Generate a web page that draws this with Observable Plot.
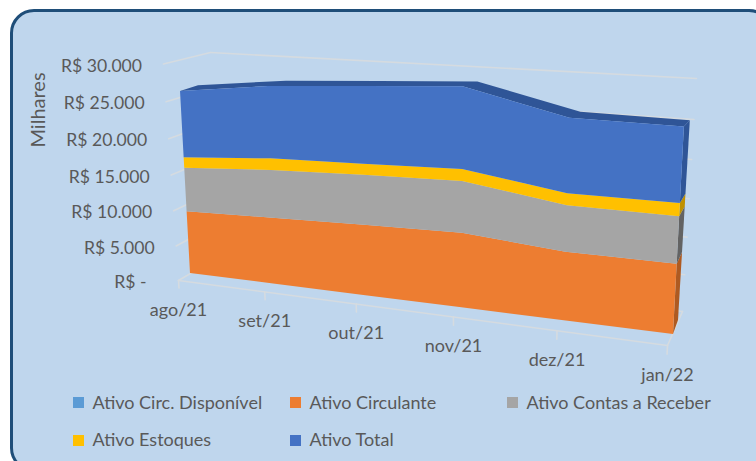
<!DOCTYPE html>
<html lang="pt">
<head>
<meta charset="utf-8">
<script src="https://cdn.jsdelivr.net/npm/d3@7"></script>
<script src="https://cdn.jsdelivr.net/npm/@observablehq/plot@0.6"></script>
<style>
html,body{margin:0;padding:0;background:#fff;overflow:hidden;width:756px;height:461px}
#panel{position:absolute;left:10px;top:9px;width:757px;height:457px;background:#bfd6ed;border:3px solid #1f4e79;border-radius:24px}
#chart{position:absolute;left:0;top:0}
#chart svg{background:transparent;display:block}
.lg{position:absolute;font:18px Lato,sans-serif;color:#595959;line-height:20px;white-space:nowrap}
.sw{position:absolute;width:11px;height:11px}
</style>
</head>
<body>
<div id="panel"></div>
<div id="chart"></div>
<script>
// ---- data ----
const months = ["ago/21","set/21","out/21","nov/21","dez/21","jan/22"];
const disponivel = [0,0,0,0,0,0];
const circulante = [9040,9400,9750,10000,8950,8900];
const contas     = [6230,6630,6720,6770,5920,5850];
const estoques   = [1490,1590,1480,1560,1510,1620];
const total      = [9220,9750,10130,10420,9300,9130];
const valueTicks = [0,5000,10000,15000,20000,25000,30000];
const tickLabels = ["R$ -","R$ 5.000","R$ 10.000","R$ 15.000","R$ 20.000","R$ 25.000","R$ 30.000"];
const seriesNames = ["Ativo Circ. Disponível","Ativo Circulante","Ativo Contas a Receber","Ativo Estoques","Ativo Total"];
const seriesColors = ["#5b9bd5","#ed7d31","#a5a5a5","#ffc000","#4472c4"];
const sideColors = ["#41719c","#ae5a21","#636363","#bf9000","#2f5597"];

// ---- 3-D view: a perspective map of (month, value) onto the chart plane ----
const X0=190, X1=673, Y0=273, Y1=61.4, VMAX=30000, N=5;
const U=px=>(px-X0)/(X1-X0)*N, W=py=>(Y0-py)/(Y0-Y1)*VMAX;
function quad(a,b,c,d){ // a:(0,0) b:(1,0) c:(0,1) d:(1,1)
  const [x0,y0]=a,[x1,y1]=b,[x3,y3]=c,[x2,y2]=d;
  const dx1=x1-x2,dx2=x3-x2,dx3=x0-x1+x2-x3,dy1=y1-y2,dy2=y3-y2,dy3=y0-y1+y2-y3;
  const den=dx1*dy2-dx2*dy1;
  const g=(dx3*dy2-dx2*dy3)/den,h=(dx1*dy3-dx3*dy1)/den;
  const A=x1-x0+g*x1,B=x3-x0+h*x3,D=y1-y0+g*y1,E=y3-y0+h*y3;
  return (i,v)=>{const s=i/N,t=v/VMAX,q=g*s+h*t+1;
    return [U((A*s+B*t+x0)/q),W((D*s+E*t+y0)/q)];};
}
const front=quad([190,273],[673,334],[178.4,61.4],[685.9,87.9]);
const rear =quad([204,265],[678,320],[197,56.4],[692,83.4]);
const frame=quad([178,280],[667,345],[163,63.5],[680,94]);
const wall =quad([224,253],[682,311],[210,52],[696,78]);

// ---- stack ----
const stackSeries=[disponivel,circulante,contas,estoques,total];
let cum=months.map(()=>0);
const bands=stackSeries.map((vals,k)=>{
  const rows=months.map((m,i)=>({i,lo:cum[i],hi:cum[i]+vals[i]}));
  cum=rows.map(r=>r.hi);
  return {k,rows};
}).filter(b=>b.rows.some(r=>r.hi>r.lo));

const faceArea=(rows,q,fill)=>Plot.area(rows,{
  x1:r=>q(r.i,r.lo)[0],y1:r=>q(r.i,r.lo)[1],
  x2:r=>q(r.i,r.hi)[0],y2:r=>q(r.i,r.hi)[1],
  fill,curve:"linear"});

const sideArea=(b)=>{const r=b.rows[N];
  return Plot.area([r.lo,r.hi],{
    x1:v=>front(N,v)[0],y1:v=>front(N,v)[1],
    x2:v=>rear(N,v)[0],y2:v=>rear(N,v)[1],
    fill:sideColors[b.k],curve:"linear"});};

const topRows=bands[bands.length-1].rows;
const topFace=Plot.area(topRows,{
  x1:r=>front(r.i,r.hi)[0],y1:r=>front(r.i,r.hi)[1],
  x2:r=>rear(r.i,r.hi)[0],y2:r=>rear(r.i,r.hi)[1],
  fill:sideColors[4],curve:"linear"});

const seg=(a,b)=>Plot.line([a,b],{x:d=>d[0],y:d=>d[1],stroke:"#d5dbe0",strokeWidth:1.6});
const gridMarks=[
  ...valueTicks.map(v=>seg(frame(0,v),wall(0,v))),
  ...valueTicks.map(v=>seg(wall(0,v),wall(N,v))),
  seg(frame(0,0),frame(N,0)),
  seg(frame(N,0),wall(N,0)),
  ...months.map((m,i)=>seg(frame(i,0),frame(i,-1100)))
];

const font="Lato, sans-serif";
const chart=Plot.plot({
  width:756,height:461,margin:0,
  style:{background:"transparent"},
  x:{domain:[0,N],range:[X0,X1],axis:null},
  y:{domain:[0,VMAX],range:[Y0,Y1],axis:null},
  marks:[
    ...gridMarks,
    topFace,
    ...bands.map(sideArea),
    ...bands.map(b=>faceArea(b.rows,front,seriesColors[b.k])),
    Plot.text(valueTicks.slice(1),{
      x:v=>frame(0,v)[0],y:v=>frame(0,v)[1],
      text:v=>tickLabels[valueTicks.indexOf(v)],
      textAnchor:"end",dx:-21.5,dy:2,fontSize:17.6,fontFamily:font,fill:"#595959"}),
    Plot.text([0],{
      x:v=>frame(0,v)[0],y:v=>frame(0,v)[1],
      text:v=>tickLabels[0],
      textAnchor:"end",dx:-32,dy:2,fontSize:17.6,fontFamily:font,fill:"#595959"}),
    Plot.text(months,{
      x:(m,i)=>frame(i,0)[0],y:(m,i)=>frame(i,0)[1],
      text:m=>m,dy:29.5,fontSize:18,fontFamily:font,fill:"#595959"}),
    Plot.text(["Milhares"],{frameAnchor:"left",textAnchor:"middle",dx:38,dy:-121,rotate:-90,fontSize:20,fontFamily:font,fill:"#595959"})
  ]
});
document.getElementById("chart").append(chart);

// ---- legend ----
const legendPos=[[73,397],[290,397],[507,397],[73,435],[290,435]];
seriesNames.forEach((n,k)=>{
  const [x,y]=legendPos[k];
  const s=document.createElement("div");s.className="sw";
  s.style.cssText=`left:${x}px;top:${y}px;background:${seriesColors[k]}`;
  const t=document.createElement("div");t.className="lg";t.textContent=n;
  t.style.cssText=`left:${x+19.5}px;top:${y-5.5-(y>400?1:0)}px`;
  document.body.append(s,t);
});
</script>
</body>
</html>
